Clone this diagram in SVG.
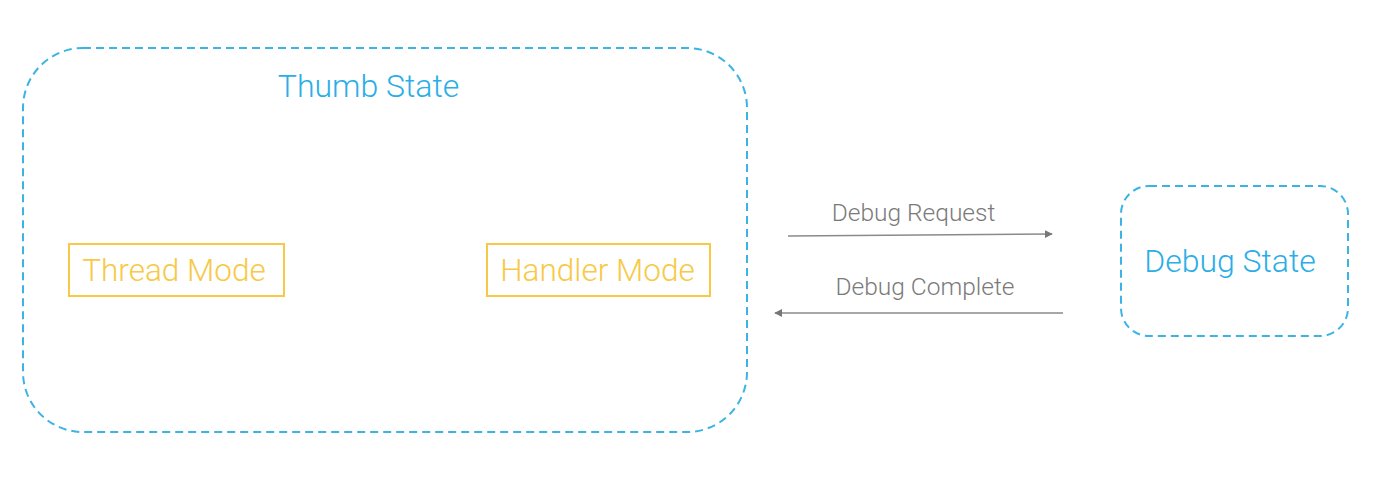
<svg xmlns="http://www.w3.org/2000/svg" width="1389" height="500" viewBox="0 0 1389 500">
<defs>
<style>
.state{fill:none;stroke:#3bb4e5;stroke-width:2;stroke-dasharray:8 5}
.mode{fill:none;stroke:#f7c945;stroke-width:2}
.stitle{font-family:Roboto,"Liberation Sans",sans-serif;font-weight:300;font-size:32px;fill:#2aaee6}
.mtext{font-family:Roboto,"Liberation Sans",sans-serif;font-weight:300;font-size:31.5px;fill:#f7c945}
.elabel{font-family:Roboto,"Liberation Sans",sans-serif;font-weight:300;font-size:24.5px;fill:#7a7a7a}
.edge{fill:none;stroke:#8a8a8a;stroke-width:1.5}
</style>
<marker id="arr" viewBox="0 0 10 10" refX="9" refY="5" markerWidth="8" markerHeight="8" markerUnits="userSpaceOnUse" orient="auto">
<path d="M0,0 L10,5 L0,10 z" fill="#777"/>
</marker>
</defs>
<rect width="1389" height="500" fill="#ffffff"/>
<g id="thumb-state">
<rect class="state" x="23" y="48" width="724" height="384" rx="60" ry="60"/>
<text class="stitle" x="368.5" y="97" text-anchor="middle">Thumb State</text>
</g>
<g id="thread-mode">
<rect class="mode" x="69" y="244" width="215" height="52"/>
<text class="mtext" x="174" y="281" text-anchor="middle">Thread Mode</text>
</g>
<g id="handler-mode">
<rect class="mode" x="487" y="244" width="223" height="52"/>
<text class="mtext" x="597.5" y="281" text-anchor="middle">Handler Mode</text>
</g>
<g id="debug-state">
<rect class="state" x="1121" y="186" width="227" height="150" rx="28" ry="28"/>
<text class="stitle" x="1230" y="272" text-anchor="middle">Debug State</text>
</g>
<g id="connectors">
<line class="edge" x1="788" y1="236" x2="1052" y2="234" marker-end="url(#arr)"/>
<text class="elabel" x="913.5" y="221" text-anchor="middle">Debug Request</text>
<line class="edge" x1="1063" y1="313" x2="775" y2="313" marker-end="url(#arr)"/>
<text class="elabel" x="925" y="295" text-anchor="middle">Debug Complete</text>
</g>
</svg>
